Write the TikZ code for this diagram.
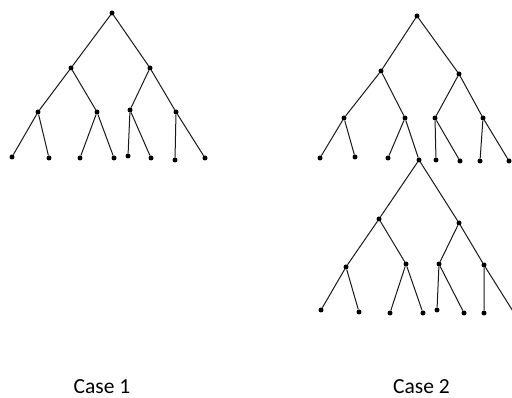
\documentclass[tikz,border=0pt]{standalone}
\usepackage{fontspec}
\setmainfont{Carlito}
\begin{document}
\begin{tikzpicture}[x=1pt,y=-1pt,
  dot/.style={circle,fill=black,inner sep=0pt,minimum size=5pt},
  edge/.style={draw=black!90,line width=1pt},
  caption/.style={font=\fontsize{21.5}{24}\selectfont,text=black,inner sep=0pt}]
\useasboundingbox (0,0) rectangle (512,398);
\clip (0,0) rectangle (512,398);

% ---- Case 1: complete binary tree ----
\node[dot] (r)   at (112,13) {};
\node[dot] (a)   at (71,68)  {};
\node[dot] (b)   at (150,68) {};
\node[dot] (aa)  at (38,112) {};
\node[dot] (ab)  at (97,112) {};
\node[dot] (ba)  at (130,110) {};
\node[dot] (bb)  at (176,112) {};
\node[dot] (l1)  at (12,157) {};
\node[dot] (l2)  at (49,158) {};
\node[dot] (l3)  at (80,158) {};
\node[dot] (l4)  at (114,158) {};
\node[dot] (l5)  at (128,156) {};
\node[dot] (l6)  at (151,158) {};
\node[dot] (l7)  at (175,160) {};
\node[dot] (l8)  at (205,158) {};
\path[edge] (r) -- (a) (r) -- (b)
  (a) -- (aa) (a) -- (ab) (b) -- (ba) (b) -- (bb)
  (aa) -- (l1) (aa) -- (l2) (ab) -- (l3) (ab) -- (l4)
  (ba) -- (l5) (ba) -- (l6) (bb) -- (l7) (bb) -- (l8);

% ---- Case 2: upper tree ----
\node[dot] (R)   at (417,16)  {};
\node[dot] (A)   at (381,71)  {};
\node[dot] (B)   at (459,74)  {};
\node[dot] (AA)  at (344,118) {};
\node[dot] (AB)  at (405,118) {};
\node[dot] (BA)  at (435,118) {};
\node[dot] (BB)  at (483,118) {};
\node[dot] (L1)  at (320,158) {};
\node[dot] (L2)  at (355,157) {};
\node[dot] (L3)  at (388,158) {};
\node[dot] (L4)  at (419,160) {};
\node[dot] (L5)  at (436,160) {};
\node[dot] (L6)  at (460,161) {};
\node[dot] (L7)  at (480,161) {};
\node[dot] (L8)  at (509,161) {};
\path[edge] (R) -- (A) (R) -- (B)
  (A) -- (AA) (A) -- (AB) (B) -- (BA) (B) -- (BB)
  (AA) -- (L1) (AA) -- (L2) (AB) -- (L3) (AB) -- (L4)
  (BA) -- (L5) (BA) -- (L6) (BB) -- (L7) (BB) -- (L8);

% ---- Case 2: lower tree hanging from leaf L4 ----
\node[dot] (C)   at (379,219) {};
\node[dot] (D)   at (459,223) {};
\node[dot] (CC)  at (346,267) {};
\node[dot] (CD)  at (406,264) {};
\node[dot] (DC)  at (439,264) {};
\node[dot] (DD)  at (484,265) {};
\node[dot] (M1)  at (321,310) {};
\node[dot] (M2)  at (359,312) {};
\node[dot] (M3)  at (390,313) {};
\node[dot] (M4)  at (423,313) {};
\node[dot] (M5)  at (437,310) {};
\node[dot] (M6)  at (464,313) {};
\node[dot] (M7)  at (484,313) {};
\coordinate (M8) at (516,316);
\path[edge] (L4) -- (C) (L4) -- (D)
  (C) -- (CC) (C) -- (CD) (D) -- (DC) (D) -- (DD)
  (CC) -- (M1) (CC) -- (M2) (CD) -- (M3) (CD) -- (M4)
  (DC) -- (M5) (DC) -- (M6) (DD) -- (M7) (DD) -- (M8);

% ---- captions ----
\node[caption] (cap1) at (102,387) {Case 1};
\node[caption] (cap2) at (421.5,387) {Case 2};
\end{tikzpicture}
\end{document}
